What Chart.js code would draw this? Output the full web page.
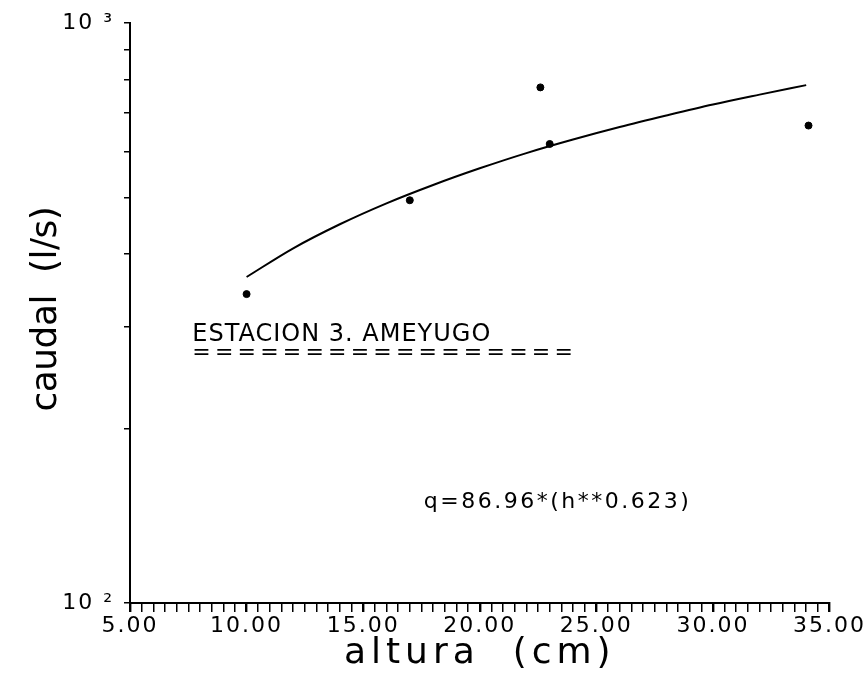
<!DOCTYPE html>
<html>
<head>
<meta charset="utf-8">
<script src="https://cdn.jsdelivr.net/npm/chart.js@4"></script>
<style>
  body { margin: 0; background: #fff; }
</style>
</head>
<body>
<canvas id="myChart" width="867" height="680"></canvas>
<script>
// measured points (altura cm, caudal l/s)
const alturaObs = [10.0, 17.0, 22.6, 23.0, 34.1];
const caudalObs = [341, 495, 775, 619, 666];

// fitted curve
const alturaFit = [10, 12, 14, 16, 18, 20, 22, 24, 26, 28, 30, 32, 34];
const caudalFit = [365, 409, 450, 489, 526, 562, 597, 630, 662, 693, 724, 753, 782];

const xTickValues = [5, 10, 15, 20, 25, 30, 35];
const yTickValues = [100, 200, 300, 400, 500, 600, 700, 800, 900, 1000];
const yTickLabels = ['10 ²', '', '', '', '', '', '', '', '', '10 ³'];

const FONT = "'DejaVu Sans', sans-serif";

// plotter-like wide lettering + free text on the plot
const plotterText = {
  id: 'plotterText',
  beforeLayout(chart) { chart.ctx.letterSpacing = '2px'; },
  beforeDraw(chart) { chart.ctx.letterSpacing = '2px'; },
  afterDraw(chart) {
    const { ctx, chartArea, scales: { x, y } } = chart;
    const put = (txt, px, py, size, spacing, align) => {
      ctx.save();
      ctx.fillStyle = '#000';
      ctx.font = size + 'px ' + FONT;
      ctx.letterSpacing = spacing + 'px';
      ctx.textAlign = align || 'left';
      ctx.textBaseline = 'alphabetic';
      ctx.fillText(txt, px, py);
      ctx.restore();
    };
    put('ESTACION 3. AMEYUGO', x.getPixelForValue(7.67), y.getPixelForValue(283.5), 24, 1);
    put('=================', x.getPixelForValue(7.67), y.getPixelForValue(264), 22, 4.2);
    put('q=86.96*(h**0.623)', x.getPixelForValue(17.6), y.getPixelForValue(145.8), 22, 2.5);

    // axis titles
    put('altura  (cm)', (chartArea.left + chartArea.right) / 2, chartArea.bottom + 60, 36, 5, 'center');
    ctx.save();
    ctx.translate(56, (chartArea.top + chartArea.bottom) / 2 - 4);
    ctx.rotate(-Math.PI / 2);
    put('caudal  (l/s)', 0, 0, 36, -0.5, 'center');
    ctx.restore();
  }
};

const ctx = document.getElementById('myChart');

new Chart(ctx, {
  type: 'scatter',
  data: {
    datasets: [{
      label: 'observado',
      data: alturaObs.map((h, i) => ({ x: h, y: caudalObs[i] })),
      pointRadius: 3.5,
      backgroundColor: '#000',
      borderColor: '#000',
      showLine: false
    }, {
      label: 'ajuste',
      data: alturaFit.map((h, i) => ({ x: h, y: caudalFit[i] })),
      showLine: true,
      pointRadius: 0,
      borderColor: '#000',
      borderWidth: 2,
      cubicInterpolationMode: 'monotone'
    }]
  },
  options: {
    responsive: false,
    animation: false,
    layout: { padding: { top: 21, right: 35, left: 0, bottom: 0 } },
    plugins: {
      legend: { display: false },
      tooltip: { enabled: false }
    },
    scales: {
      x: {
        type: 'linear',
        min: 5,
        max: 35,
        afterFit: (s) => { s.height = 77; },
        afterBuildTicks: (s) => {
          // minor ticks every half unit
          const t = [];
          for (let k = 10; k <= 70; k++) t.push({ value: k / 2 });
          s.ticks = t;
        },
        border: { display: true, color: '#000', width: 2 },
        grid: {
          drawOnChartArea: false,
          drawTicks: true,
          tickLength: 9,
          color: '#000',
          lineWidth: (c) => (c.tick && c.tick.value % 5 === 0) ? 2.4 : 1.5
        },
        ticks: {
          autoSkip: false,
          maxRotation: 0,
          minRotation: 0,
          padding: 1,
          color: '#000',
          font: { family: FONT, size: 22 },
          callback: (v) => xTickValues.includes(v) ? v.toFixed(2) : ''
        },
        title: { display: false }
      },
      y: {
        type: 'logarithmic',
        min: 100,
        max: 1000,
        afterFit: (s) => { s.width = 130; },
        afterBuildTicks: (s) => {
          s.ticks = yTickValues.map((v) => ({ value: v }));
        },
        border: { display: true, color: '#000', width: 2 },
        grid: {
          drawOnChartArea: false,
          drawTicks: true,
          tickLength: 6,
          color: '#000',
          lineWidth: 1.5
        },
        ticks: {
          autoSkip: false,
          padding: 10,
          color: '#000',
          font: { family: FONT, size: 22 },
          callback: (v) => {
            const i = yTickValues.indexOf(v);
            return i >= 0 ? yTickLabels[i] : '';
          }
        },
        title: { display: false }
      }
    }
  },
  plugins: [plotterText]
});
</script>
</body>
</html>
